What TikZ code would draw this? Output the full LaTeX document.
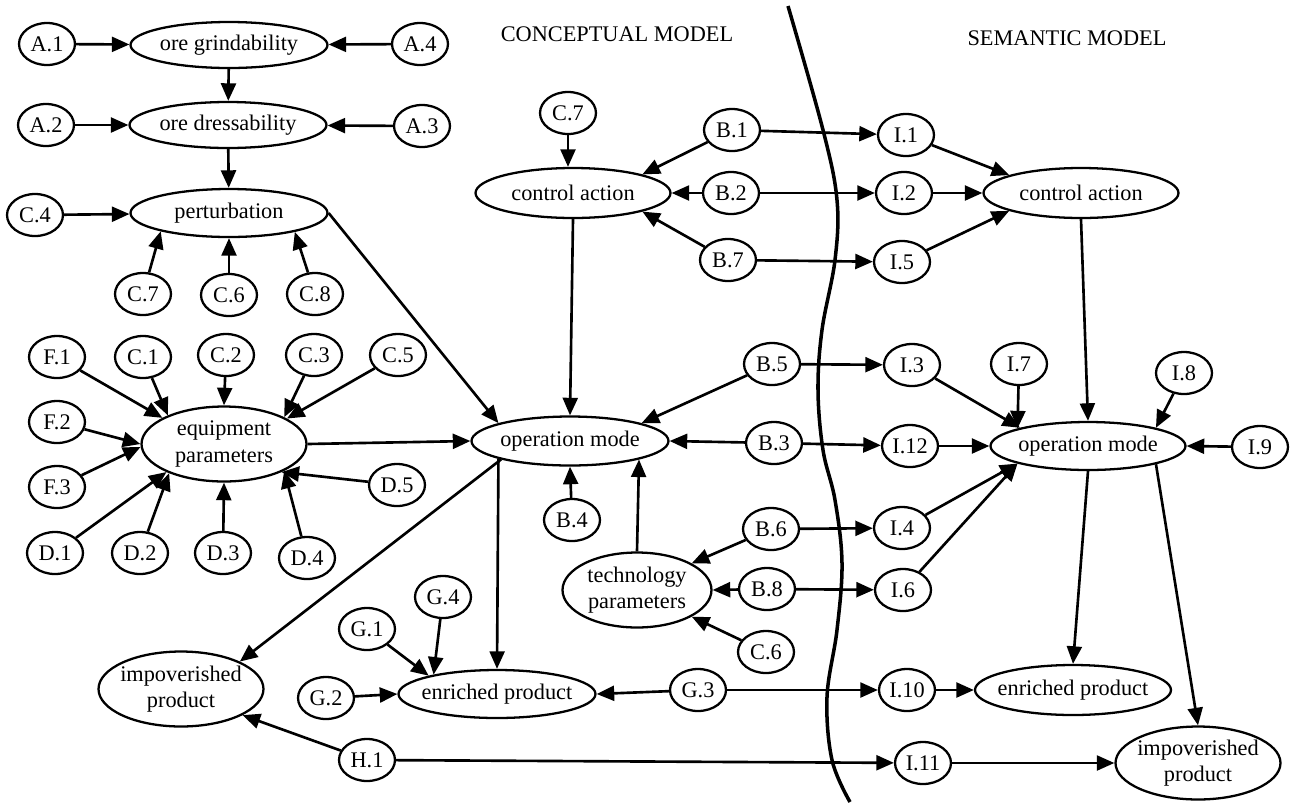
\documentclass[tikz,border=0pt]{standalone}
\usepackage{fontspec}
\setmainfont{Liberation Serif}
\usetikzlibrary{arrows.meta,shapes.geometric}
\begin{document}
\begin{tikzpicture}[x=0.02cm,y=-0.02cm,
  every node/.style={font=\fontsize{12.7}{15}\selectfont},
  sm/.style={ellipse,draw,line width=1.3pt,inner sep=0pt,minimum width=1.12cm,minimum height=0.84cm},
  bg/.style={ellipse,draw,line width=1.3pt,inner xsep=-4pt,inner ysep=0pt,align=center},
  arr/.style={-{Triangle[length=10pt,width=8.5pt]},line width=1.5pt},
  divider/.style={line width=2pt}]
\useasboundingbox (0,0) rectangle (1292,802);

% left column
\node[sm] (A1) at (47,44) {A.1};
\node[bg,minimum width=3.94cm,minimum height=0.92cm] (og) at (229,45) {ore grindability};
\node[sm] (A4) at (420,44) {A.4};
\node[sm] (A2) at (46,125) {A.2};
\node[bg,minimum width=3.94cm,minimum height=0.92cm] (od) at (228,125) {ore dressability};
\node[sm] (A3) at (422,126) {A.3};
\node[bg,minimum width=3.94cm,minimum height=0.96cm] (pt) at (229,213) {perturbation};
\node[sm] (C4) at (35,215) {C.4};
\node[sm] (C7a) at (143,294) {C.7};
\node[sm] (C6a) at (229,295) {C.6};
\node[sm] (C8) at (315,294) {C.8};

\node[sm] (F1) at (57,357) {F.1};
\node[sm] (C1) at (143,357) {C.1};
\node[sm] (C2) at (226,355) {C.2};
\node[sm] (C3) at (314,355) {C.3};
\node[sm] (C5) at (398,355) {C.5};
\node[sm] (F2) at (57,422) {F.2};
\node[sm] (F3) at (57,487) {F.3};
\node[bg,minimum width=3.3cm,minimum height=1.5cm] (eq) at (224,444) {equipment\\parameters};
\node[sm] (D5) at (397,485) {D.5};
\node[sm] (D1) at (55,553) {D.1};
\node[sm] (D2) at (140,553) {D.2};
\node[sm] (D3) at (223,553) {D.3};
\node[sm] (D4) at (307,558) {D.4};
\node[bg,minimum width=3.3cm,minimum height=1.5cm] (ipL) at (181,689) {impoverished\\product};
\node[sm] (G1) at (367,629) {G.1};
\node[sm] (G4) at (443,597) {G.4};
\node[sm] (G2) at (326,698) {G.2};
\node[sm] (H1) at (367,760) {H.1};
\node[bg,minimum width=3.94cm,minimum height=0.96cm] (enL) at (497,694) {enriched product};
\node[sm] (G3) at (698,690) {G.3};

% titles
\node (t1) at (617,34) {CONCEPTUAL MODEL};
\node (t2) at (1067,38) {SEMANTIC MODEL};

% middle
\node[sm] (C7b) at (568,113) {C.7};
\node[bg,minimum width=3.9cm,minimum height=1.0cm] (caL) at (573,193) {control action};
\node[sm] (B1) at (732,130) {B.1};
\node[sm] (B2) at (731,193) {B.2};
\node[sm] (B7) at (728,260) {B.7};
\node[bg,minimum width=3.94cm,minimum height=0.98cm] (omL) at (570,441) {operation mode};
\node[sm] (B5) at (772,364) {B.5};
\node[sm] (B3) at (774,443) {B.3};
\node[sm] (B4) at (572,520) {B.4};
\node[sm] (B6) at (771,529) {B.6};
\node[bg,minimum width=2.98cm,minimum height=1.5cm] (tp) at (637,590) {technology\\parameters};
\node[sm] (B8) at (767,589) {B.8};
\node[sm] (C6b) at (766,652) {C.6};

% right
\node[sm] (I1) at (906,135) {I.1};
\node[sm] (I2) at (904,193) {I.2};
\node[sm] (I5) at (902,262) {I.5};
\node[bg,minimum width=3.9cm,minimum height=1.0cm] (caR) at (1081,193) {control action};
\node[sm] (I3) at (912,365) {I.3};
\node[sm] (I7) at (1019,364) {I.7};
\node[sm] (I8) at (1184,373) {I.8};
\node[sm] (I12) at (910,446) {I.12};
\node[bg,minimum width=3.9cm,minimum height=0.96cm] (omR) at (1088,446) {operation mode};
\node[sm] (I9) at (1260,447) {I.9};
\node[sm] (I4) at (902,528) {I.4};
\node[sm] (I6) at (903,590) {I.6};
\node[sm] (I10) at (907,690) {I.10};
\node[bg,minimum width=3.92cm,minimum height=1.0cm] (enR) at (1073,690) {enriched product};
\node[sm] (I11) at (923,763) {I.11};
\node[bg,minimum width=3.3cm,minimum height=1.46cm] (ipR) at (1198,763) {impoverished\\product};

% divider
\draw[divider] plot[smooth,tension=0.6] coordinates {(788,6) (823,130) (837,200) (835,260) (822,330) (818,390) (823,450) (835,500) (842,563) (837,630) (827,697) (832,760) (850,802)};

% edges left
\draw[arr] (A1) -- (og);
\draw[arr] (A4) -- (og);
\draw[arr] (og) -- (od);
\draw[arr] (A2) -- (od);
\draw[arr] (A3) -- (od);
\draw[arr] (od) -- (pt);
\draw[arr] (C4) -- (pt);
\draw[arr] (C7a) -- (pt.195);
\draw[arr] (C6a) -- (pt.south);
\draw[arr] (C8) -- (pt.344);
\draw[arr] (pt.east) -- (omL.166);

\draw[arr] (F1) -- (eq.157);
\draw[arr] (C1) -- (eq.153);
\draw[arr] (C2) -- (eq.north);
\draw[arr] (C3) -- (eq.24);
\draw[arr] (C5) -- (eq.22);
\draw[arr] (F2) -- (eq.180);
\draw[arr] (F3) -- (eq.182);
\draw[arr] (D1) -- (eq.206);
\draw[arr] (D2) -- (eq.208);
\draw[arr] (D3) -- (eq.south);
\draw[arr] (D4) -- (eq.336);
\draw[arr] (D5) -- (eq.334);
\draw[arr] (eq.east) -- (omL.west);

\draw[arr] (omL.195) -- (ipL.25);
\draw[arr] (omL.194) -- (enL.north);

% middle edges
\draw[arr] (C7b) -- (C7b |- caL.north);
\draw[arr] (B1) -- (caL.15);
\draw[arr] (B2) -- (caL.east);
\draw[arr] (B7) -- (caL.345);
\draw[arr] (caL.south) -- (omL.north);
\draw[arr] (B5) -- (omL.14);
\draw[arr] (B3) -- (omL.east);
\draw[arr] (B4) -- (omL.south);
\draw[arr] (tp.north) -- (omL.345);
\draw[arr] (B6) -- (tp.26);
\draw[arr] (B8) -- (tp.east);
\draw[arr] (C6b) -- (tp.334);
\draw[arr] (G1) -- (enL.165);
\draw[arr] (G4) -- (enL.163);
\draw[arr] (G2) -- (enL.west);
\draw[arr] (G3) -- (enL.east);
\draw[arr] (H1) -- (ipL.337);

% cross edges
\draw[arr] (B1) -- (I1);
\draw[arr] (B2) -- (I2);
\draw[arr] (B7) -- (I5);
\draw[arr] (B5) -- (I3);
\draw[arr] (B3) -- (I12);
\draw[arr] (B6) -- (I4);
\draw[arr] (B8) -- (I6);
\draw[arr] (G3) -- (I10);
\draw[arr] (H1) -- (I11);

% right edges
\draw[arr] (I1) -- (caR.166);
\draw[arr] (I2) -- (caR.west);
\draw[arr] (I5) -- (caR.194);
\draw[arr] (caR.south) -- (omR.north);
\draw[arr] (I3) -- (omR.165);
\draw[arr] (I7) -- (omR.166);
\draw[arr] (I12) -- (omR.west);
\draw[arr] (I4) -- (omR.194);
\draw[arr] (I6) -- (omR.194);
\draw[arr] (I8) -- (omR.15);
\draw[arr] (I9) -- (omR.east);
\draw[arr] (omR.south) -- (enR.north);
\draw[arr] (omR.345) -- (ipR.north);
\draw[arr] (I10) -- (enR.west);
\draw[arr] (I11) -- (ipR.west);
\end{tikzpicture}
\end{document}
